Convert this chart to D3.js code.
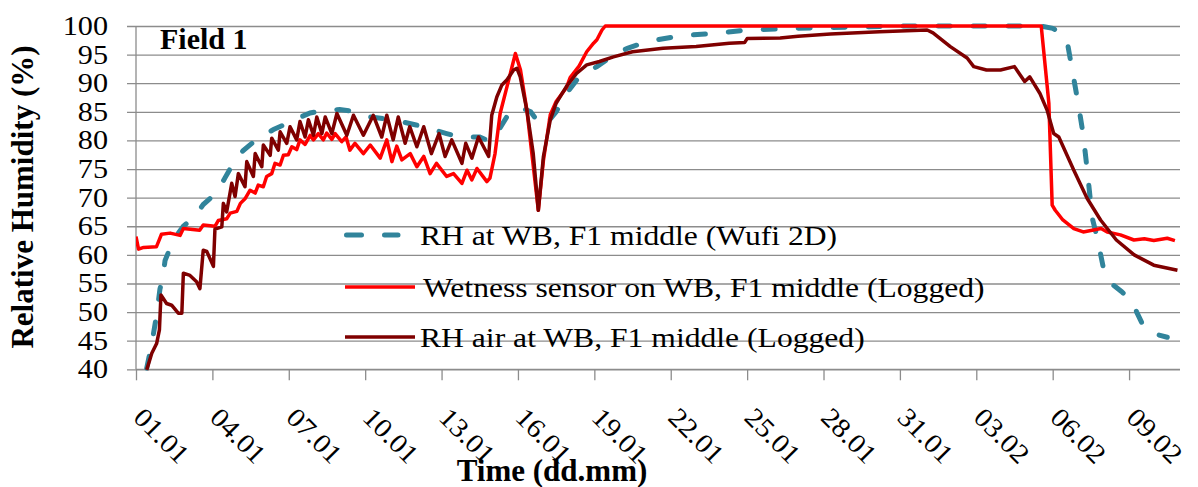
<!DOCTYPE html>
<html><head><meta charset="utf-8">
<script src="https://cdn.jsdelivr.net/npm/d3@7"></script>
<style>body{margin:0;background:#fff}svg{display:block}</style>
</head><body><svg id="c" width="1198" height="487"></svg>
<script>
const xTickDays = [0,3,6,9,12,15,18,21,24,27,30,33,36,39];
const xTickLabels = ["01.01","04.01","07.01","10.01","13.01","16.01","19.01","22.01","25.01","28.01","31.01","03.02","06.02","09.02"];
const yTicks = [40,45,50,55,60,65,70,75,80,85,90,95,100];
const seriesNames = ["RH at WB, F1 middle (Wufi 2D)","Wetness sensor on WB, F1 middle (Logged)","RH air at WB, F1 middle (Logged)"];

const wufi = [[0.42,40.2],[0.62,44.5],[0.81,49.5],[0.94,54.0],[1.07,56.5],[1.14,59.0],[1.47,62.6],[1.86,65.0],[2.32,66.8],[2.64,68.8],[3.17,70.9],[3.5,73.5],[3.82,76.0],[4.2,78.2],[4.8,80.4],[5.4,81.9],[5.85,82.8],[6.37,83.9],[6.84,84.8],[7.4,85.3],[8.0,85.4],[8.67,85.0],[9.2,84.1],[10.1,83.6],[11.0,82.7],[12.2,81.2],[12.7,80.6],[13.5,80.6],[13.9,79.8],[14.2,81.5],[14.6,84.4],[15.1,85.8],[15.5,85.0],[15.9,82.6],[16.1,82.8],[16.5,85.0],[16.9,88.2],[17.4,91.1],[18.1,92.9],[18.75,94.9],[19.3,96.1],[20.1,97.3],[21.4,98.3],[22.7,98.7],[24.0,99.3],[26.0,99.6],[28.0,99.8],[30.0,100],[35.5,100],[36.0,99.6],[36.4,98.5],[36.6,96.5],[36.8,91.5],[37.0,86.5],[37.2,81.0],[37.4,73.0],[37.55,66.5],[37.75,63.0],[38.0,57.5],[38.3,55.0],[38.7,53.6],[39.1,52.0],[39.3,50.0],[39.6,47.2],[40.0,46.2],[40.5,45.6]];

const wetness = [[0,63.2],[0.1,61.0],[0.3,61.3],[0.8,61.4],[0.9,62.5],[1.0,63.6],[1.34,63.8],[1.73,63.4],[1.86,64.6],[2.5,64.3],[2.64,65.2],[3.1,65.0],[3.23,66.0],[3.56,66.3],[3.7,67.3],[3.96,67.6],[4.1,69.0],[4.28,69.8],[4.48,71.3],[4.68,70.8],[4.8,72.2],[5.0,71.9],[5.13,73.7],[5.33,74.2],[5.46,76.0],[5.66,75.7],[5.79,77.4],[5.98,77.5],[6.12,78.9],[6.31,78.4],[6.44,80.1],[6.64,79.3],[6.84,80.9],[6.97,80.1],[7.16,81.2],[7.36,80.1],[7.49,81.3],[7.69,80.2],[7.82,81.2],[8.08,79.8],[8.25,80.6],[8.4,78.3],[8.6,79.5],[8.93,77.7],[9.2,79.2],[9.59,76.9],[9.85,80.1],[10.05,76.3],[10.24,79.0],[10.44,76.6],[10.77,77.7],[11.03,75.4],[11.3,77.2],[11.55,74.2],[11.8,76.0],[12.2,73.7],[12.47,74.2],[12.8,72.5],[13.0,74.8],[13.19,73.1],[13.39,75.1],[13.78,72.8],[13.9,73.4],[14.1,77.7],[14.3,84.7],[14.57,89.4],[14.9,95.2],[15.1,92.3],[15.35,85.3],[15.8,67.8],[16.0,76.5],[16.27,84.5],[16.5,86.8],[16.9,89.2],[17.05,91.0],[17.4,93.0],[17.7,95.5],[17.97,97.0],[18.1,97.6],[18.3,99.3],[18.43,100],[35.55,100],[35.85,86.5],[35.98,68.7],[36.1,67.8],[36.4,66.1],[36.83,64.6],[37.2,64.0],[37.55,64.3],[37.9,64.6],[38.14,64.0],[38.66,63.5],[39.19,62.6],[39.6,62.8],[39.97,62.5],[40.5,62.9],[40.8,62.5]];

const rhAir = [[0.42,39.9],[0.62,42.8],[0.81,44.5],[0.92,46.9],[0.98,53.0],[1.2,51.5],[1.4,51.2],[1.66,49.8],[1.8,49.8],[1.86,56.8],[2.12,56.4],[2.38,55.3],[2.51,54.1],[2.64,60.8],[2.78,60.6],[3.04,58.0],[3.1,64.5],[3.37,64.9],[3.43,69.0],[3.56,67.5],[3.76,72.5],[3.89,70.2],[4.02,74.2],[4.28,71.9],[4.35,76.3],[4.61,73.7],[4.68,77.7],[4.94,75.4],[5.0,79.2],[5.27,77.4],[5.33,80.4],[5.59,78.3],[5.66,81.5],[5.92,79.5],[6.05,82.4],[6.31,80.1],[6.44,83.3],[6.64,80.6],[6.77,83.6],[6.97,80.9],[7.1,84.1],[7.3,81.2],[7.43,84.1],[7.69,81.2],[7.89,84.7],[8.28,80.9],[8.54,84.4],[8.93,80.9],[9.32,84.4],[9.65,80.6],[9.85,84.4],[10.1,80.1],[10.3,84.1],[10.57,79.5],[10.75,82.4],[11.03,78.9],[11.3,82.4],[11.6,77.7],[11.9,81.2],[12.14,77.2],[12.4,80.1],[12.8,76.0],[12.95,79.5],[13.19,76.9],[13.45,80.6],[13.85,77.2],[13.97,84.4],[14.17,87.6],[14.37,89.7],[14.57,90.6],[14.83,92.3],[14.96,92.6],[15.09,91.1],[15.35,85.3],[15.6,77.7],[15.8,67.8],[16.0,77.2],[16.27,83.6],[16.5,86.5],[16.9,89.4],[17.3,91.7],[17.7,93.2],[18.2,93.8],[18.75,94.6],[19.5,95.5],[20.7,96.1],[22.0,96.4],[23.3,97.0],[23.9,97.1],[24.0,97.8],[25.3,97.9],[26.0,98.2],[27.27,98.6],[29.2,99.0],[31.07,99.3],[31.3,98.8],[31.98,96.4],[32.64,94.4],[32.9,92.9],[33.4,92.3],[33.95,92.3],[34.5,92.9],[34.73,91.4],[34.9,90.3],[35.1,91.1],[35.5,88.2],[35.78,85.3],[36.04,81.2],[36.24,80.6],[36.83,74.8],[37.35,69.9],[37.88,66.1],[38.5,62.6],[39.2,60.0],[39.97,58.2],[40.9,57.3]];

const FONT = "'Liberation Serif', 'DejaVu Serif', 'Times New Roman', serif";
const svg = d3.select("#c").style("font-family", FONT);
const L = 136, R = 1180, T = 26, B = 369.3;
const x = d3.scaleLinear().domain([0,41]).range([L,R]);
const y = d3.scaleLinear().domain([40,100]).range([B,T]);
const gridCol = "#8c8c8c";
const SX = 1.12;
const txt = (g) => g.append("text").attr("font-family", FONT).attr("fill","#000");

// gridlines + y axis
const yAxis = d3.axisLeft(y).tickValues(yTicks).tickSize(R - L + 9).tickFormat("");
const gy = svg.append("g").attr("transform",`translate(${R},0)`).call(yAxis);
gy.select(".domain").remove();
gy.selectAll(".tick line").attr("stroke",gridCol).attr("stroke-width",1.3);
svg.append("line").attr("x1",L).attr("x2",L).attr("y1",T).attr("y2",B).attr("stroke",gridCol).attr("stroke-width",1.3);

yTicks.forEach(v=>{
  txt(svg).attr("transform",`translate(108,${y(v)+9}) scale(${SX},1)`)
    .attr("text-anchor","end").attr("font-size",27).text(v);
});

// x axis
const xAxis = d3.axisBottom(x).tickValues(xTickDays).tickSize(11).tickFormat("");
const gx = svg.append("g").attr("transform",`translate(0,${B})`).call(xAxis);
gx.select(".domain").attr("stroke",gridCol).attr("stroke-width",1.3).attr("d",`M${L},0H${R}`);
gx.selectAll(".tick line").attr("stroke",gridCol).attr("stroke-width",1.3);
xTickDays.forEach((d,i)=>{
  txt(svg).attr("transform",`translate(${x(d)-4},419) rotate(45) scale(1.08,1)`)
    .attr("font-size",27).text(xTickLabels[i]);
});

// titles
txt(svg).attr("transform","translate(33,197) rotate(-90)").attr("text-anchor","middle")
  .attr("font-size",31).attr("font-weight","bold").text("Relative Humidity (%)");
txt(svg).attr("x",552).attr("y",481).attr("text-anchor","middle")
  .attr("font-size",31).attr("font-weight","bold").text("Time (dd.mm)");
txt(svg).attr("x",160).attr("y",49).attr("font-size",30).attr("font-weight","bold").text("Field 1");

// series
svg.append("defs").append("clipPath").attr("id","pc").append("rect")
  .attr("x",L).attr("y",T-4).attr("width",R-L).attr("height",B-T+6);
const line = d3.line().x(d=>x(d[0])).y(d=>y(d[1]));
const plot = svg.append("g").attr("clip-path","url(#pc)");
plot.append("path").datum(wufi).attr("d",line).attr("fill","none").attr("stroke","#31849b")
  .attr("stroke-width",5).attr("stroke-dasharray","12,23").attr("stroke-linecap","round");
plot.append("path").datum(wetness).attr("d",line).attr("fill","none").attr("stroke","#ff0000")
  .attr("stroke-width",3.5).attr("stroke-linejoin","round");
plot.append("path").datum(rhAir).attr("d",line).attr("fill","none").attr("stroke","#7f0000")
  .attr("stroke-width",3.5).attr("stroke-linejoin","round");

// legend
const legY = [235, 287, 337];
const legStyles = [
  {c:"#31849b",w:5,dash:"15,23",cap:"round",x1:346.5,x2:398},
  {c:"#ff0000",w:3.5,dash:null,cap:"butt",x1:345,x2:415},
  {c:"#7f0000",w:3.5,dash:null,cap:"butt",x1:345,x2:415}];
seriesNames.forEach((n,i)=>{
  const s = legStyles[i];
  svg.append("line").attr("x1",s.x1).attr("x2",s.x2).attr("y1",legY[i]).attr("y2",legY[i])
    .attr("stroke",s.c).attr("stroke-width",s.w).attr("stroke-dasharray",s.dash).attr("stroke-linecap",s.cap);
  txt(svg).attr("transform",`translate(${i===1?423:420},${legY[i]+9.5}) scale(1.13,1)`)
    .attr("font-size",28).text(n);
});
</script></body></html>
